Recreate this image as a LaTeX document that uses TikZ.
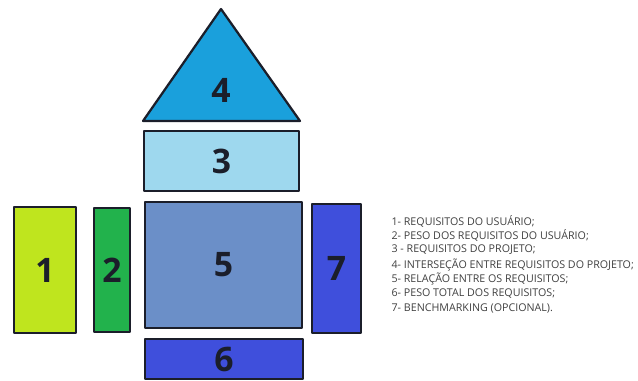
\documentclass[tikz,border=0pt]{standalone}
\usepackage{fontspec}
\setmainfont{Open Sans}
\definecolor{limebox}{HTML}{BFE51E}
\definecolor{greenbox}{HTML}{22B24C}
\definecolor{steelbox}{HTML}{6B8FC8}
\definecolor{bluebox}{HTML}{3F4FDC}
\definecolor{skybox}{HTML}{9ED8EE}
\definecolor{roofbox}{HTML}{1AA0DC}
\definecolor{edge}{HTML}{1B1E2A}
\begin{document}
\begin{tikzpicture}[x=0.025cm,y=-0.025cm,line join=round,line cap=round,thick]
			\tikzset{part/.style={draw=edge,line width=1.6pt,inner sep=0pt},
				num/.style={font=\fontsize{24}{24}\selectfont\bfseries,text=edge},
				item/.style={anchor=west,font=\fontsize{7.6}{8}\selectfont,text=black!75,inner sep=0pt}}
			\useasboundingbox (0,0) rectangle (638,381);
			% roof
			\draw[part,fill=roofbox] (143,121)--(221,9)--(300,121)--cycle;
			\node[num] (n4) at (221,90) {4};
			% boxes
			\foreach \nm/\cx/\cy/\w/\h/\col in {b1/45/270/62/126/limebox, b2/112/270/36/124/greenbox, b3/221.5/161/155/60/skybox, b5/223.5/265/157/126/steelbox, b7/336.5/268.5/49/129/bluebox, b6/224/359/158/40/bluebox}
			\node[part,fill=\col,minimum width=\w*0.025cm,minimum height=\h*0.025cm] (\nm) at (\cx,\cy) {};
			\foreach \nm/\t in {b1/1,b2/2,b3/3,b5/5,b7/7,b6/6}
			\node[num] (n\t) at (\nm) {\t};
			% legend
			\foreach \i/\t in {0/{1- REQUISITOS DO USUÁRIO;},1/{2- PESO DOS REQUISITOS DO USUÁRIO;},2/{3 - REQUISITOS DO PROJETO;},3/{4- INTERSEÇÃO ENTRE REQUISITOS DO PROJETO;},4/{5- RELAÇÃO ENTRE OS REQUISITOS;},5/{6- PESO TOTAL DOS REQUISITOS;},6/{7- BENCHMARKING (OPCIONAL).}}
			\node[item] (l\i) at (391,{221+14.5*\i}) {\t};
	\end{tikzpicture}
\end{document}
